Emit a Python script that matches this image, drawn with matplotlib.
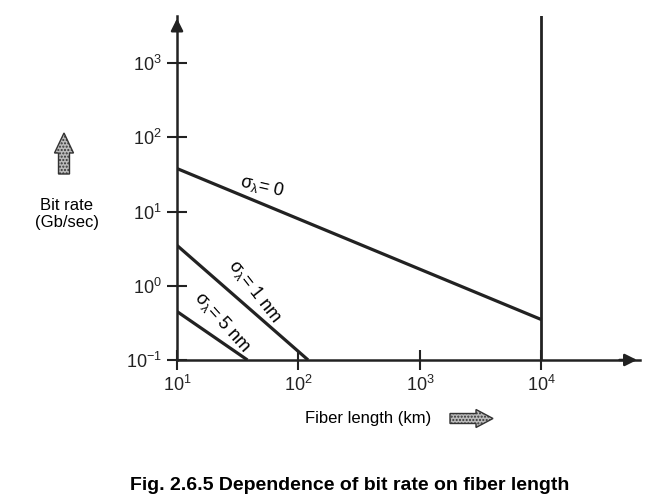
import numpy as np
import matplotlib
matplotlib.use("Agg")
import matplotlib.pyplot as plt
from matplotlib.patches import FancyArrow

plt.rcParams['font.family'] = ['Liberation Sans', 'DejaVu Sans']
plt.rcParams['mathtext.fontset'] = 'custom'
plt.rcParams['mathtext.rm'] = 'Liberation Sans'
plt.rcParams['mathtext.it'] = 'Liberation Sans'
plt.rcParams['mathtext.default'] = 'regular'

# Data: fiber length (km) vs bit rate (Gb/sec)
len_s0 = [10, 1e4]
rate_s0 = [38, 0.35]
len_s1 = [10, 120]
rate_s1 = [3.5, 0.1]
len_s5 = [10, 38]
rate_s5 = [0.45, 0.1]

x_ticks = [10, 1e2, 1e3, 1e4]
x_labels = ['$10^1$', '$10^2$', '$10^3$', '$10^4$']
y_ticks = [0.1, 1, 10, 100, 1000]
y_labels = ['$10^{-1}$', '$10^0$', '$10^1$', '$10^2$', '$10^3$']

fig = plt.figure(figsize=(6.64, 4.99), dpi=100)
ax = fig.add_axes([0.2666, 0.2786, 0.697, 0.69])
ax.set_xscale('log')
ax.set_yscale('log')
ax.set_xlim(10, 10 ** 4.81)
ax.set_ylim(0.1, 10 ** 3.64)

lw = 2.3
ax.plot(len_s0, rate_s0, color='#222222', lw=lw, solid_capstyle='butt')
ax.plot(len_s1, rate_s1, color='#222222', lw=lw, solid_capstyle='butt')
ax.plot(len_s5, rate_s5, color='#222222', lw=lw, solid_capstyle='butt')
ax.axvline(1e4, color='#222222', lw=2.0)

for s in ['top', 'right']:
    ax.spines[s].set_visible(False)
for s in ['left', 'bottom']:
    ax.spines[s].set_linewidth(1.8)
    ax.spines[s].set_color('#222222')

ax.set_xticks(x_ticks)
ax.set_xticklabels(x_labels)
ax.set_yticks(y_ticks)
ax.set_yticklabels(y_labels)
ax.minorticks_off()
ax.tick_params(direction='inout', length=14, width=1.5, labelsize=13, colors='#222222', pad=4)

# axis arrowheads
ax.annotate('', xy=(1.0, 0), xytext=(0.95, 0), xycoords='axes fraction',
            arrowprops=dict(arrowstyle='-|>', color='#222222', lw=1.8, mutation_scale=18))
ax.annotate('', xy=(0, 1.0), xytext=(0, 0.95), xycoords='axes fraction',
            arrowprops=dict(arrowstyle='-|>', color='#222222', lw=1.8, mutation_scale=18))

# curve labels
ax.text(50, 22, r'$\sigma_\lambda$= 0', fontsize=13, rotation=-13, ha='center', va='center')
ax.text(44, 0.85, r'$\sigma_\lambda$= 1 nm', fontsize=13, rotation=-52, ha='center', va='center')
ax.text(23.5, 0.33, r'$\sigma_\lambda$= 5 nm', fontsize=13, rotation=-48, ha='center', va='center')

# axis titles
fig.text(67 / 664, 1 - 214 / 499, 'Bit rate\n(Gb/sec)', fontsize=12, ha='center', va='center',
         linespacing=1.2)
fig.text(368 / 664, 1 - 418 / 499, 'Fiber length (km)', fontsize=12, ha='center', va='center')

# decorative gray arrows
up = FancyArrow(0.64, 4.99 - 1.74, 0, 0.41, width=0.11, head_width=0.19, head_length=0.2,
                length_includes_head=True, transform=fig.dpi_scale_trans,
                facecolor='#bbbbbb', edgecolor='#333333', lw=1.0, hatch='.....')
right = FancyArrow(4.50, 4.99 - 4.185, 0.43, 0, width=0.1, head_width=0.18, head_length=0.17,
                   length_includes_head=True, transform=fig.dpi_scale_trans,
                   facecolor='#bbbbbb', edgecolor='#333333', lw=1.0, hatch='.....')
fig.patches.extend([up, right])

fig.text(350 / 664, 1 - 485 / 499, 'Fig. 2.6.5 Dependence of bit rate on fiber length',
         fontsize=14, fontweight='bold', ha='center', va='center')

fig.savefig('out.png', dpi=100)
